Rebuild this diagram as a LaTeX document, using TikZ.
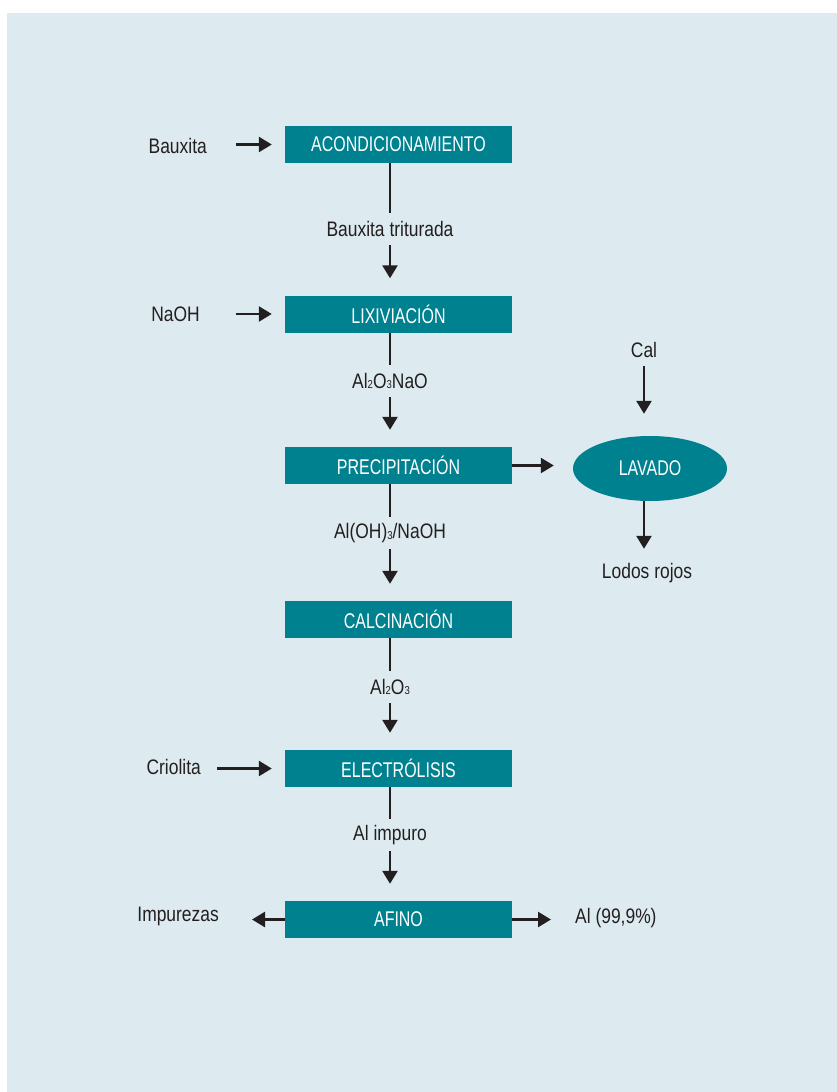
\documentclass[tikz,border=0pt]{standalone}
\usepackage{fontspec}
\setmainfont{Liberation Sans}[FakeStretch=0.83]
\newfontfamily\capfont{Liberation Sans}[FakeStretch=0.75]
\usetikzlibrary{arrows.meta,shapes.geometric}
\definecolor{bgblue}{HTML}{DDEBF0}
\definecolor{teal}{HTML}{00818F}
\definecolor{ink}{HTML}{231F20}
\newcommand\sbs[1]{\raisebox{-0.8pt}{\fontsize{11.5}{12}\selectfont #1}}
\tikzset{
  procbox/.style={fill=teal, text=white, minimum width=227pt, minimum height=37pt, inner sep=0pt, font=\capfont\fontsize{21.3}{25}\selectfont},
  ovalbox/.style={ellipse, fill=teal, text=white, minimum width=154pt, minimum height=65pt, inner sep=0pt, font=\capfont\fontsize{21.3}{25}\selectfont},
  lbl/.style={text=ink, minimum height=32pt, inner sep=0pt, font=\fontsize{21}{25}\selectfont},
  arr/.style={draw=ink, line width=2.5pt, -{Triangle[length=13pt,width=15pt]}},
  ln/.style={draw=ink, line width=2.5pt}
}
\begin{document}
\begin{tikzpicture}[x=1pt,y=-1pt]
\useasboundingbox (0,0) rectangle (837,1092);
\fill[bgblue] (7,13) rectangle (837,1092);
% process boxes
\node[procbox] (b1) at (398.5,144.5) {ACONDICIONAMIENTO};
\node[procbox] (b2) at (398.5,314) {LIXIVIACIÓN};
\node[procbox] (b3) at (398.5,465.5) {PRECIPITACIÓN};
\node[procbox] (b4) at (398.5,619.5) {CALCINACIÓN};
\node[procbox] (b5) at (398.5,768.5) {ELECTRÓLISIS};
\node[procbox] (b6) at (398.5,919.5) {AFINO};
\node[ovalbox] (lav) at (650,468.5) {LAVADO};
% intermediate labels
\node[lbl] (l1) at (390,229) {Bauxita triturada};
\node[lbl] (l2) at (390,381) {Al\sbs{2}O\sbs{3}NaO};
\node[lbl] (l3) at (390,533) {Al(OH)\sbs{3}/NaOH};
\node[lbl] (l4) at (390,687) {Al\sbs{2}O\sbs{3}};
\node[lbl] (l5) at (390,835) {Al impuro};
% side labels
\node[lbl, anchor=east] (bx) at (207,146) {Bauxita};
\node[lbl, anchor=east] (na) at (200,314) {NaOH};
\node[lbl, anchor=east] (cr) at (201,767) {Criolita};
\node[lbl, anchor=east] (im) at (219,916) {Impurezas};
\node[lbl, anchor=west] (al) at (575,918) {Al (99,9\%)};
\node[lbl] (cal) at (644,350) {Cal};
\node[lbl] (lod) at (647,573) {Lodos rojos};
% main chain
\draw[ln] (b1.south -| l1) -- (l1.north);
\draw[arr, shorten >=17pt] (l1.south) -- (b2.north -| l1);
\draw[ln] (b2.south -| l2) -- (l2.north);
\draw[arr, shorten >=17pt] (l2.south) -- (b3.north -| l2);
\draw[ln] (b3.south -| l3) -- (l3.north);
\draw[arr, shorten >=17pt] (l3.south) -- (b4.north -| l3);
\draw[ln] (b4.south -| l4) -- (l4.north);
\draw[arr, shorten >=17pt] (l4.south) -- (b5.north -| l4);
\draw[ln] (b5.south -| l5) -- (l5.north);
\draw[arr, shorten >=17pt] (l5.south) -- (b6.north -| l5);
% inputs
\draw[arr, shorten <=29pt, shorten >=13pt] (bx.east |- b1.west) -- (b1.west);
\draw[arr, shorten <=36pt, shorten >=13pt] (na.east |- b2.west) -- (b2.west);
\draw[arr, shorten <=16pt, shorten >=13pt] (cr.east |- b5.west) -- (b5.west);
% lavado branch
\draw[arr, shorten >=19pt] (b3.east) -- (b3.east -| lav.west);
\draw[arr, shorten >=22pt] (cal.south) -- (lav.north -| cal);
\draw[arr, shorten >=8pt] (lav.south -| cal) -- (lod.north -| cal);
% outputs
\draw[arr, shorten >=33pt] (b6.west) -- (b6.west -| im.east);
\draw[arr, shorten >=24pt] (b6.east) -- (b6.east -| al.west);
\end{tikzpicture}
\end{document}
